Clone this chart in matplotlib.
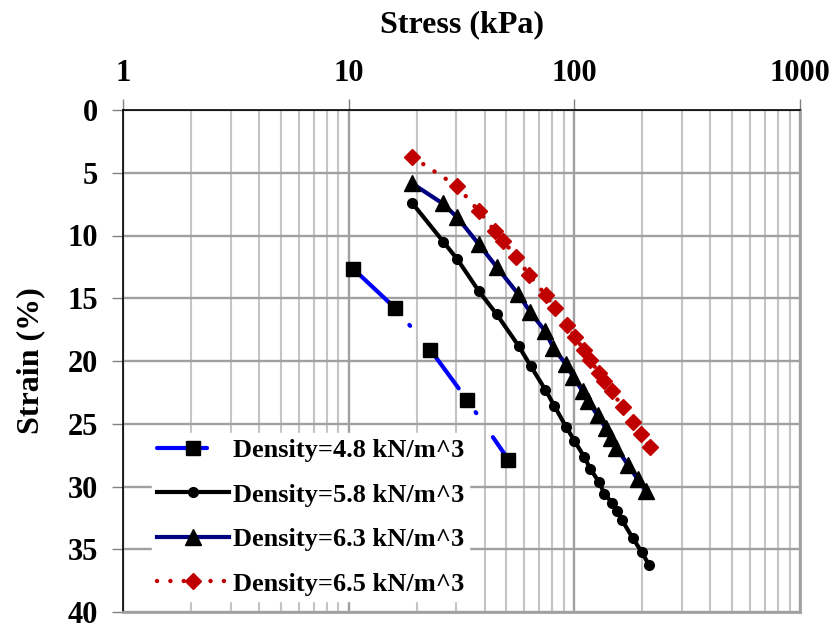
import matplotlib
matplotlib.use("Agg")
import matplotlib.pyplot as plt
from matplotlib.ticker import FixedLocator, LogLocator, NullFormatter

plt.rcParams['font.family'] = ['Liberation Serif', 'DejaVu Serif']
plt.rcParams['font.weight'] = 'bold'

# ---- data ----
labels = ["Density=4.8 kN/m^3", "Density=5.8 kN/m^3",
          "Density=6.3 kN/m^3", "Density=6.5 kN/m^3"]

stress_48 = [10.5, 16.1, 23.0, 33.5, 51.0]
strain_48 = [12.67, 15.8, 19.1, 23.1, 27.85]

stress_58 = [19.1, 26.3, 30.3, 37.7, 45.3, 56.8, 64.2, 74.4, 81.6, 91.7, 100.0,
             110.7, 117.7, 129.0, 135.7, 146.8, 153.9, 162.6, 181.1, 199.3, 214.7]
strain_58 = [7.40, 10.51, 11.89, 14.42, 16.28, 18.83, 20.43, 22.29, 23.58, 25.22, 26.34,
             27.65, 28.6, 29.67, 30.57, 31.28, 31.92, 32.68, 34.08, 35.25, 36.27]

stress_63 = [19.1, 26.1, 30.3, 37.7, 45.3, 56.5, 63.9, 74.4, 80.7, 91.5, 99.0,
             109.0, 115.3, 126.8, 138.1, 145.8, 153.4, 172.5, 190.6, 207.3]
strain_63 = [5.85, 7.45, 8.56, 10.69, 12.51, 14.68, 16.12, 17.64, 18.95, 20.23, 21.27,
             22.43, 23.22, 24.34, 25.34, 26.1, 26.9, 28.25, 29.4, 30.33]

stress_65 = [19.1, 30.2, 37.7, 44.5, 48.5, 55.4, 62.8, 74.6, 81.8, 92.4, 100.7,
             110.7, 117.9, 128.5, 135.0, 146.5, 164.1, 181.1, 197.3, 216.3]
strain_65 = [3.73, 6.07, 8.04, 9.66, 10.45, 11.73, 13.11, 14.74, 15.78, 17.14, 18.09,
             19.15, 19.95, 20.95, 21.63, 22.43, 23.68, 24.88, 25.80, 26.87]

x_ticks = [1, 10, 100, 1000]
x_ticklabels = ["1", "10", "100", "1000"]
y_ticks = [0, 5, 10, 15, 20, 25, 30, 35, 40]

# ---- figure ----
fig = plt.figure(figsize=(8.35, 6.3), dpi=100)
ax = fig.add_axes([123/835, 1-612/630, (800-123)/835, (612-110)/630])

ax.set_xscale('log')
ax.set_xlim(1, 1000)
ax.set_ylim(40, 0)

# grid
ax.xaxis.set_major_locator(FixedLocator(x_ticks))
ax.xaxis.set_minor_locator(LogLocator(base=10, subs=range(2, 10)))
ax.xaxis.set_minor_formatter(NullFormatter())
ax.set_yticks(y_ticks)
ax.grid(which='major', axis='x', color='#a0a0a0', linewidth=1.7, zorder=0)
ax.grid(which='minor', axis='x', color='#c4c4c4', linewidth=1.5, zorder=0)
ax.grid(which='major', axis='y', color='#a0a0a0', linewidth=1.7, zorder=0)

ax.xaxis.tick_top()
ax.xaxis.set_label_position('top')
ax.set_xticklabels(x_ticklabels)
ax.tick_params(axis='x', which='major', direction='out', length=8, width=1,
               color='#808080', labelsize=22, pad=8)
ax.tick_params(axis='x', which='minor', length=0)
ax.tick_params(axis='y', which='major', direction='out', length=8, width=1,
               color='#808080', labelsize=22, pad=10)
for lab in ax.get_xticklabels() + ax.get_yticklabels():
    lab.set_fontweight('bold')

ax.spines['top'].set_color('black')
ax.spines['top'].set_linewidth(1.2)
ax.spines['left'].set_color('black')
ax.spines['left'].set_linewidth(1.2)
ax.spines['right'].set_color('#a0a0a0')
ax.spines['right'].set_linewidth(2)
ax.spines['bottom'].set_color('#a0a0a0')
ax.spines['bottom'].set_linewidth(2)

ax.set_xlabel("Stress (kPa)", fontsize=23, fontweight='bold', labelpad=19)
ax.set_ylabel("Strain (%)", fontsize=23, fontweight='bold', labelpad=16)

# series
ax.plot(stress_48, strain_48, color='#0000ff', linewidth=3, dashes=(12, 7, 0.3, 7),
        dash_capstyle='round', marker='s', markersize=10, markerfacecolor='black',
        markeredgecolor='black', label=labels[0], zorder=3)
ax.plot(stress_58, strain_58, color='black', linewidth=3, marker='o', markersize=7,
        markerfacecolor='black', markeredgecolor='black', label=labels[1], zorder=3)
ax.plot(stress_63, strain_63, color='#000080', linewidth=3, marker='^', markersize=11,
        markerfacecolor='black', markeredgecolor='black', label=labels[2], zorder=3)
ax.plot(stress_65, strain_65, color='#c00000', linewidth=3.2, linestyle=(0, (0.01, 3)),
        dash_capstyle='round', marker='D', markersize=8, markerfacecolor='#c00000',
        markeredgecolor='#c00000', label=labels[3], zorder=3)

leg = ax.legend(loc='lower left', bbox_to_anchor=(0.043, 0.022), frameon=True,
                fancybox=False, framealpha=1, edgecolor='white', facecolor='white',
                prop={'family': 'Liberation Serif', 'weight': 'bold', 'size': 19},
                handlelength=2.7, handletextpad=0.15, labelspacing=0.8,
                borderpad=0.2, borderaxespad=0)
leg.set_zorder(5)

fig.savefig("out.png", dpi=100)
